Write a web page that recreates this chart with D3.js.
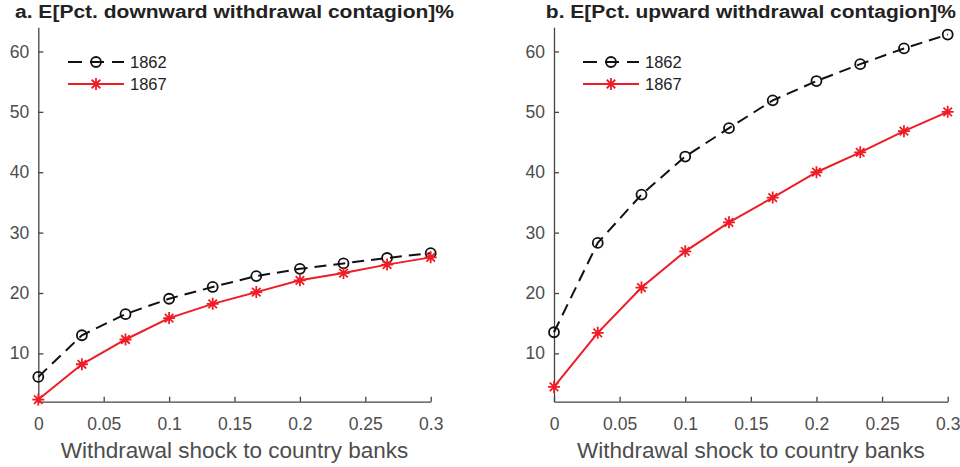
<!DOCTYPE html>
<html><head><meta charset="utf-8">
<script src="https://cdn.jsdelivr.net/npm/d3@7"></script>
<style>body{margin:0;background:#fff}svg{display:block}text{font-family:"Liberation Sans",Arial,sans-serif}</style>
</head><body>
<svg id="c" width="960" height="467"></svg>
<script>
const shocks = [0, 1/30, 2/30, 0.1, 4/30, 5/30, 0.2, 7/30, 8/30, 0.3];
const downward1862 = [6.1, 13.0, 16.5, 19.05, 21.0, 22.8, 24.0, 24.9, 25.8, 26.6];
const downward1867 = [2.35, 8.2, 12.3, 15.85, 18.2, 20.15, 22.1, 23.3, 24.7, 25.9];
const upward1862 = [13.5, 28.3, 36.3, 42.6, 47.3, 51.9, 55.1, 57.9, 60.5, 62.8];
const upward1867 = [4.45, 13.4, 20.9, 26.9, 31.7, 35.8, 40.0, 43.3, 46.8, 50.0];
const xTicks = [0, 0.05, 0.1, 0.15, 0.2, 0.25, 0.3];
const yTicks = [10, 20, 30, 40, 50, 60];
const seriesNames = ["1862", "1867"];
const titles = ["a. E[Pct. downward withdrawal contagion]%", "b. E[Pct. upward withdrawal contagion]%"];
const xLabel = "Withdrawal shock to country banks";

const svg = d3.select("#c");
const panels = [
  {left: 38.3, right: 430.7, title: titles[0], titleW: 439, data: [downward1862, downward1867], legX: 68},
  {left: 554, right: 947.7, title: titles[1], titleW: 410, data: [upward1862, upward1867], legX: 583}
];
const plotTop = 27.3, plotBottom = 401.7;
const axisCol = "#444", textCol = "#4d4d4d";

function asterisk(g, x, y, r, col) {
  const p = d3.path();
  for (let k = 0; k < 4; k++) {
    const a = k * Math.PI / 4;
    p.moveTo(x - r * Math.cos(a), y - r * Math.sin(a));
    p.lineTo(x + r * Math.cos(a), y + r * Math.sin(a));
  }
  g.append("path").attr("d", p.toString()).attr("stroke", col).attr("stroke-width", 1.8).attr("fill", "none");
}

panels.forEach(P => {
  const x = d3.scaleLinear().domain([0, 0.3]).range([P.left, P.right]);
  const y = d3.scaleLinear().domain([2, 64]).range([plotBottom, plotTop]);
  const g = svg.append("g");

  const xa = g.append("g").attr("transform", `translate(0,${plotBottom})`)
    .call(d3.axisBottom(x).tickValues(xTicks).tickSizeInner(-5).tickSizeOuter(0).tickPadding(15.5).tickFormat(d3.format("~g")));
  const ya = g.append("g").attr("transform", `translate(${P.left},0)`)
    .call(d3.axisLeft(y).tickValues(yTicks).tickSizeInner(-5).tickSizeOuter(0).tickPadding(10));
  [xa, ya].forEach(a => {
    a.select(".domain").attr("stroke", axisCol).attr("stroke-width", 1.3);
    a.selectAll(".tick line").attr("stroke", axisCol).attr("stroke-width", 1.3);
    a.selectAll("text").attr("fill", textCol).style("font-size", "17.5px").style("font-family", '"Liberation Sans",Arial,sans-serif');
  });
  ya.selectAll("text").attr("x", -9);
  g.append("text").attr("x", (P.left + P.right) / 2).attr("y", 458.3)
    .attr("text-anchor", "middle").attr("fill", textCol).style("font-size", "22.5px").text(xLabel);
  g.append("text").attr("x", (P.left + P.right) / 2).attr("y", 18.3)
    .attr("text-anchor", "middle").attr("fill", "#222").style("font-size", "18px").style("font-weight", "bold")
    .attr("textLength", P.titleW).attr("lengthAdjust", "spacingAndGlyphs").text(P.title);

  const line = d3.line().x((d, i) => x(shocks[i])).y(d => y(d));
  g.append("path").attr("d", line(P.data[0])).attr("fill", "none").attr("stroke", "#111")
    .attr("stroke-width", 2).attr("stroke-dasharray", "12,7");
  P.data[0].forEach((v, i) => g.append("circle").attr("cx", x(shocks[i])).attr("cy", y(v)).attr("r", 5)
    .attr("fill", "none").attr("stroke", "#111").attr("stroke-width", 1.8));
  g.append("path").attr("d", line(P.data[1])).attr("fill", "none").attr("stroke", "#ee1c24").attr("stroke-width", 2);
  P.data[1].forEach((v, i) => asterisk(g, x(shocks[i]), y(v), 6, "#ee1c24"));

  const lx = P.legX, lw = 56;
  g.append("line").attr("x1", lx).attr("x2", lx + lw).attr("y1", 62).attr("y2", 62)
    .attr("stroke", "#111").attr("stroke-width", 2).attr("stroke-dasharray", "14,8");
  g.append("circle").attr("cx", lx + lw / 2).attr("cy", 62).attr("r", 5).attr("fill", "none").attr("stroke", "#111").attr("stroke-width", 1.8);
  g.append("line").attr("x1", lx).attr("x2", lx + lw).attr("y1", 84).attr("y2", 84)
    .attr("stroke", "#ee1c24").attr("stroke-width", 2);
  asterisk(g, lx + lw / 2, 84, 6, "#ee1c24");
  g.append("text").attr("x", lx + lw + 6).attr("y", 67.7).attr("fill", "#222").style("font-size", "16.5px").text(seriesNames[0]);
  g.append("text").attr("x", lx + lw + 6).attr("y", 89.7).attr("fill", "#222").style("font-size", "16.5px").text(seriesNames[1]);
});
</script>
</body></html>
